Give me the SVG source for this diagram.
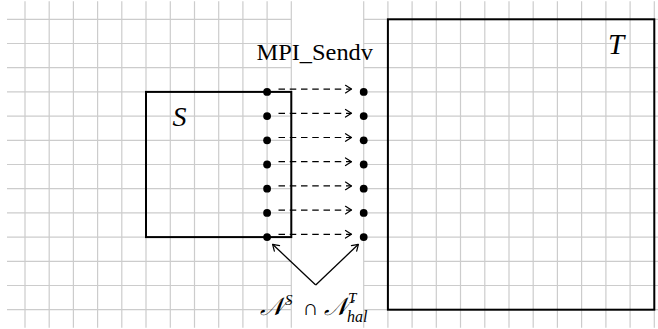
<svg xmlns="http://www.w3.org/2000/svg" width="658" height="329" viewBox="0 0 658 329">
<style>
.grid line{stroke:#cccccc;stroke-width:1.2}
.box{fill:none;stroke:#000;stroke-width:2}
.dot{fill:#000}
.dash{fill:none;stroke:#000;stroke-width:1.2;stroke-dasharray:6.5 4.75}
.solid{fill:none;stroke:#000;stroke-width:1.3}
.t{font-family:"Liberation Serif","Times New Roman",serif;fill:#000}
.it{font-style:italic}
</style>
<defs>
<marker id="arr" markerUnits="userSpaceOnUse" orient="auto" refX="0" refY="0" overflow="visible">
<path d="M-6,-3.8 L0,0 L-6,3.8" fill="none" stroke="#000" stroke-width="1.2" stroke-linecap="round" stroke-linejoin="round"/>
</marker>
</defs>
<rect width="658" height="329" fill="#fff"/>
<g id="grid" class="grid">
<line x1="7" y1="19.3" x2="291.3" y2="19.3"/>
<line x1="7" y1="43.5" x2="291.3" y2="43.5"/>
<line x1="7" y1="67.7" x2="291.3" y2="67.7"/>
<line x1="7" y1="91.9" x2="291.3" y2="91.9"/>
<line x1="7" y1="116.1" x2="291.3" y2="116.1"/>
<line x1="7" y1="140.3" x2="291.3" y2="140.3"/>
<line x1="7" y1="164.5" x2="291.3" y2="164.5"/>
<line x1="7" y1="188.7" x2="291.3" y2="188.7"/>
<line x1="7" y1="212.9" x2="291.3" y2="212.9"/>
<line x1="7" y1="237.1" x2="291.3" y2="237.1"/>
<line x1="7" y1="261.3" x2="291.3" y2="261.3"/>
<line x1="7" y1="285.5" x2="291.3" y2="285.5"/>
<line x1="7" y1="309.7" x2="291.3" y2="309.7"/>
<line x1="25" y1="1.2" x2="25" y2="327.8"/>
<line x1="49.2" y1="1.2" x2="49.2" y2="327.8"/>
<line x1="73.4" y1="1.2" x2="73.4" y2="327.8"/>
<line x1="97.6" y1="1.2" x2="97.6" y2="327.8"/>
<line x1="121.8" y1="1.2" x2="121.8" y2="327.8"/>
<line x1="146" y1="1.2" x2="146" y2="327.8"/>
<line x1="170.3" y1="1.2" x2="170.3" y2="327.8"/>
<line x1="194.5" y1="1.2" x2="194.5" y2="327.8"/>
<line x1="218.7" y1="1.2" x2="218.7" y2="327.8"/>
<line x1="242.9" y1="1.2" x2="242.9" y2="327.8"/>
<line x1="267.1" y1="1.2" x2="267.1" y2="327.8"/>
<line x1="291.3" y1="1.2" x2="291.3" y2="327.8"/>
<line x1="363.7" y1="19.3" x2="658" y2="19.3"/>
<line x1="363.7" y1="43.5" x2="658" y2="43.5"/>
<line x1="363.7" y1="67.7" x2="658" y2="67.7"/>
<line x1="363.7" y1="91.9" x2="658" y2="91.9"/>
<line x1="363.7" y1="116.1" x2="658" y2="116.1"/>
<line x1="363.7" y1="140.3" x2="658" y2="140.3"/>
<line x1="363.7" y1="164.5" x2="658" y2="164.5"/>
<line x1="363.7" y1="188.7" x2="658" y2="188.7"/>
<line x1="363.7" y1="212.9" x2="658" y2="212.9"/>
<line x1="363.7" y1="237.1" x2="658" y2="237.1"/>
<line x1="363.7" y1="261.3" x2="658" y2="261.3"/>
<line x1="363.7" y1="285.5" x2="658" y2="285.5"/>
<line x1="363.7" y1="309.7" x2="658" y2="309.7"/>
<line x1="363.7" y1="1.2" x2="363.7" y2="327.8"/>
<line x1="387.9" y1="1.2" x2="387.9" y2="327.8"/>
<line x1="412.1" y1="1.2" x2="412.1" y2="327.8"/>
<line x1="436.3" y1="1.2" x2="436.3" y2="327.8"/>
<line x1="460.5" y1="1.2" x2="460.5" y2="327.8"/>
<line x1="484.8" y1="1.2" x2="484.8" y2="327.8"/>
<line x1="509" y1="1.2" x2="509" y2="327.8"/>
<line x1="533.2" y1="1.2" x2="533.2" y2="327.8"/>
<line x1="557.4" y1="1.2" x2="557.4" y2="327.8"/>
<line x1="581.6" y1="1.2" x2="581.6" y2="327.8"/>
<line x1="605.9" y1="1.2" x2="605.9" y2="327.8"/>
<line x1="630.1" y1="1.2" x2="630.1" y2="327.8"/>
<line x1="654.3" y1="1.2" x2="654.3" y2="327.8"/>
</g>
<g id="node-S">
<rect class="box" x="146" y="91.9" width="145.3" height="145.2"/>
<text class="t it" x="172.5" y="125.5" font-size="28">S</text>
</g>
<g id="node-T">
<rect class="box" x="387.9" y="19.3" width="266.4" height="290.4"/>
<text class="t it" x="608" y="54" font-size="29">T</text>
</g>
<g id="label-mpi">
<text class="t" font-family="'Liberation Serif', 'Times New Roman', serif" x="256.5" y="60" font-size="24" textLength="116.5" lengthAdjust="spacingAndGlyphs">MPI_Sendv</text>
</g>
<g id="connectors">
<line class="dash" x1="278.5" y1="89.1" x2="351.5" y2="89.1" marker-end="url(#arr)"/>
<line class="dash" x1="278.5" y1="113.3" x2="351.5" y2="113.3" marker-end="url(#arr)"/>
<line class="dash" x1="278.5" y1="137.5" x2="351.5" y2="137.5" marker-end="url(#arr)"/>
<line class="dash" x1="278.5" y1="161.7" x2="351.5" y2="161.7" marker-end="url(#arr)"/>
<line class="dash" x1="278.5" y1="185.9" x2="351.5" y2="185.9" marker-end="url(#arr)"/>
<line class="dash" x1="278.5" y1="210.1" x2="351.5" y2="210.1" marker-end="url(#arr)"/>
<line class="dash" x1="278.5" y1="234.3" x2="351.5" y2="234.3" marker-end="url(#arr)"/>
<line class="solid" x1="315.7" y1="285" x2="272.6" y2="244.3" marker-end="url(#arr)"/>
<line class="solid" x1="315.7" y1="285" x2="358.4" y2="244.3" marker-end="url(#arr)"/>
</g>
<g id="halo-source">
<circle class="dot" cx="267.1" cy="91.9" r="3.9"/>
<circle class="dot" cx="267.1" cy="116.1" r="3.9"/>
<circle class="dot" cx="267.1" cy="140.3" r="3.9"/>
<circle class="dot" cx="267.1" cy="164.5" r="3.9"/>
<circle class="dot" cx="267.1" cy="188.7" r="3.9"/>
<circle class="dot" cx="267.1" cy="212.9" r="3.9"/>
<circle class="dot" cx="267.1" cy="237.1" r="3.9"/>
</g>
<g id="halo-target">
<circle class="dot" cx="363.7" cy="91.9" r="3.9"/>
<circle class="dot" cx="363.7" cy="116.1" r="3.9"/>
<circle class="dot" cx="363.7" cy="140.3" r="3.9"/>
<circle class="dot" cx="363.7" cy="164.5" r="3.9"/>
<circle class="dot" cx="363.7" cy="188.7" r="3.9"/>
<circle class="dot" cx="363.7" cy="212.9" r="3.9"/>
<circle class="dot" cx="363.7" cy="237.1" r="3.9"/>
</g>
<g id="label-intersection" class="t">
<text class="it" x="260" y="315" font-size="25">𝒩</text>
<text class="it" x="285" y="305" font-size="15">S</text>
<text x="302.5" y="315" font-size="22">∩</text>
<text class="it" x="324" y="315" font-size="25">𝒩</text>
<text class="it" x="348" y="303" font-size="15">T</text>
<text class="it" x="347" y="321.5" font-size="16">hal</text>
</g>
</svg>
